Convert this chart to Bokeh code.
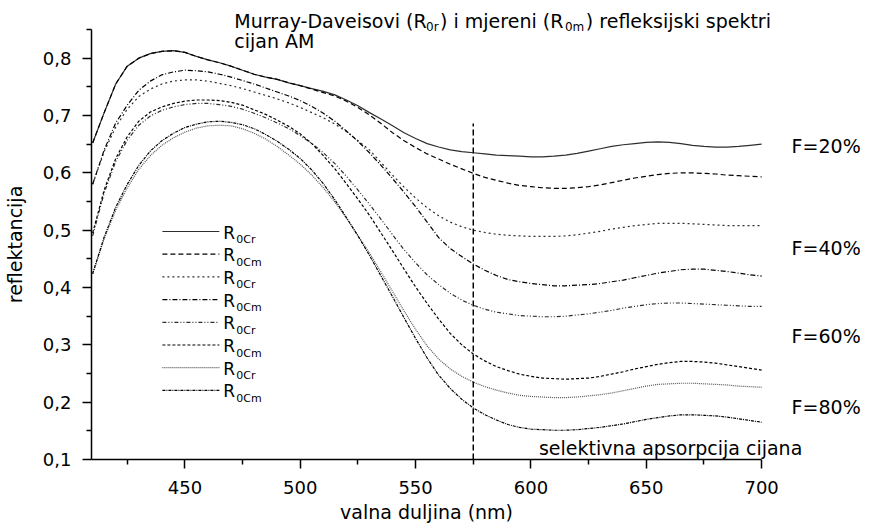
from bokeh.plotting import figure
from bokeh.models import (Range1d, FixedTicker, CustomJSTickFormatter, LinearAxis)
from bokeh.core.properties import value
from bokeh.embed import file_html
from bokeh.resources import INLINE

# ---------------- data ----------------
wavelength = [410, 415, 420, 425, 430, 435, 440, 445, 450, 455,
              460, 465, 470, 475, 480, 485, 490, 495, 500, 505,
              510, 515, 520, 525, 530, 535, 540, 545, 550, 555,
              560, 565, 570, 575, 580, 585, 590, 595, 600, 605,
              610, 615, 620, 625, 630, 635, 640, 645, 650, 655,
              660, 665, 670, 675, 680, 685, 690, 695, 700]

r0cr_f20 = [0.652, 0.705, 0.755, 0.786, 0.800, 0.808, 0.812, 0.813, 0.810, 0.803,
            0.797, 0.792, 0.786, 0.779, 0.772, 0.767, 0.763, 0.757, 0.752, 0.747,
            0.742, 0.736, 0.727, 0.717, 0.705, 0.694, 0.682, 0.670, 0.660, 0.651,
            0.645, 0.640, 0.637, 0.635, 0.633, 0.631, 0.630, 0.629, 0.628, 0.628,
            0.629, 0.631, 0.634, 0.638, 0.642, 0.646, 0.649, 0.651, 0.653, 0.654,
            0.653, 0.651, 0.648, 0.646, 0.645, 0.645, 0.646, 0.648, 0.650]
r0cm_f20 = [0.652, 0.705, 0.755, 0.786, 0.800, 0.808, 0.812, 0.813, 0.810, 0.803,
            0.797, 0.792, 0.786, 0.779, 0.772, 0.767, 0.763, 0.757, 0.752, 0.746,
            0.740, 0.734, 0.725, 0.714, 0.701, 0.686, 0.670, 0.656, 0.644, 0.633,
            0.624, 0.615, 0.607, 0.599, 0.592, 0.587, 0.582, 0.578, 0.576, 0.574,
            0.573, 0.573, 0.574, 0.576, 0.579, 0.583, 0.587, 0.591, 0.594, 0.597,
            0.599, 0.600, 0.600, 0.599, 0.598, 0.596, 0.595, 0.594, 0.593]
r0cr_f40 = [0.580, 0.637, 0.680, 0.711, 0.733, 0.746, 0.755, 0.760, 0.762, 0.762,
            0.760, 0.756, 0.752, 0.747, 0.741, 0.735, 0.729, 0.722, 0.714, 0.705,
            0.696, 0.685, 0.672, 0.656, 0.640, 0.618, 0.596, 0.575, 0.556, 0.539,
            0.525, 0.514, 0.506, 0.500, 0.496, 0.493, 0.491, 0.490, 0.489, 0.489,
            0.489, 0.490, 0.492, 0.495, 0.498, 0.502, 0.505, 0.508, 0.510, 0.512,
            0.512, 0.512, 0.511, 0.510, 0.509, 0.508, 0.508, 0.508, 0.508]
r0cm_f40 = [0.580, 0.640, 0.687, 0.718, 0.744, 0.760, 0.771, 0.776, 0.779, 0.778,
            0.776, 0.772, 0.767, 0.761, 0.755, 0.748, 0.741, 0.734, 0.726, 0.716,
            0.704, 0.690, 0.673, 0.655, 0.635, 0.613, 0.590, 0.566, 0.541, 0.514,
            0.487, 0.468, 0.454, 0.441, 0.430, 0.421, 0.414, 0.410, 0.407, 0.405,
            0.403, 0.403, 0.404, 0.405, 0.407, 0.410, 0.413, 0.417, 0.421, 0.425,
            0.428, 0.431, 0.432, 0.432, 0.430, 0.428, 0.425, 0.422, 0.420]
r0cr_f60 = [0.490, 0.565, 0.620, 0.657, 0.683, 0.699, 0.709, 0.715, 0.719, 0.721,
            0.721, 0.719, 0.716, 0.711, 0.704, 0.696, 0.687, 0.677, 0.665, 0.651,
            0.635, 0.616, 0.594, 0.570, 0.545, 0.519, 0.492, 0.466, 0.443, 0.422,
            0.405, 0.390, 0.378, 0.369, 0.362, 0.357, 0.354, 0.351, 0.350, 0.349,
            0.349, 0.350, 0.352, 0.354, 0.357, 0.360, 0.364, 0.367, 0.370, 0.372,
            0.373, 0.373, 0.372, 0.371, 0.370, 0.369, 0.368, 0.367, 0.367]
r0cm_f60 = [0.495, 0.570, 0.625, 0.663, 0.690, 0.706, 0.715, 0.721, 0.725, 0.727,
            0.727, 0.726, 0.723, 0.718, 0.710, 0.702, 0.692, 0.681, 0.668, 0.651,
            0.630, 0.607, 0.581, 0.554, 0.526, 0.495, 0.464, 0.432, 0.401, 0.372,
            0.345, 0.320, 0.300, 0.284, 0.272, 0.262, 0.255, 0.249, 0.245, 0.242,
            0.241, 0.240, 0.241, 0.242, 0.245, 0.249, 0.253, 0.258, 0.262, 0.266,
            0.269, 0.271, 0.271, 0.270, 0.268, 0.265, 0.262, 0.259, 0.256]
r0cr_f80 = [0.424, 0.485, 0.535, 0.574, 0.606, 0.630, 0.648, 0.661, 0.671, 0.678,
            0.682, 0.683, 0.682, 0.677, 0.669, 0.659, 0.646, 0.631, 0.615, 0.596,
            0.574, 0.549, 0.521, 0.491, 0.460, 0.427, 0.393, 0.359, 0.327, 0.298,
            0.275, 0.258, 0.245, 0.235, 0.227, 0.221, 0.216, 0.212, 0.210, 0.209,
            0.208, 0.208, 0.209, 0.211, 0.213, 0.216, 0.220, 0.224, 0.228, 0.231,
            0.232, 0.233, 0.233, 0.232, 0.231, 0.230, 0.228, 0.227, 0.226]
r0cm_f80 = [0.424, 0.488, 0.540, 0.580, 0.613, 0.638, 0.656, 0.669, 0.679, 0.685,
            0.689, 0.690, 0.688, 0.684, 0.677, 0.667, 0.655, 0.641, 0.625, 0.605,
            0.581, 0.553, 0.522, 0.490, 0.456, 0.420, 0.384, 0.347, 0.311, 0.277,
            0.247, 0.224, 0.205, 0.190, 0.178, 0.169, 0.161, 0.156, 0.153, 0.152,
            0.151, 0.151, 0.152, 0.154, 0.156, 0.159, 0.162, 0.166, 0.170, 0.173,
            0.176, 0.178, 0.178, 0.177, 0.176, 0.174, 0.171, 0.168, 0.165]

series = [r0cr_f20, r0cm_f20, r0cr_f40, r0cm_f40,
          r0cr_f60, r0cm_f60, r0cr_f80, r0cm_f80]
legend_subs = ["0Cr", "0Cm", "0Cr", "0Cm", "0Cr", "0Cm", "0Cr", "0Cm"]

f_labels = ["F=20%", "F=40%", "F=60%", "F=80%"]
f_label_y = [0.647, 0.469, 0.316, 0.192]

x_ticks = [450, 500, 550, 600, 650, 700]
x_minor_ticks = [425, 475, 525, 575, 625, 675]
y_ticks = [0.1, 0.2, 0.3, 0.4, 0.5, 0.6, 0.7, 0.8]
y_minor_ticks = [0.15, 0.25, 0.35, 0.45, 0.55, 0.65, 0.75, 0.85]
x_bounds = (409.5, 700)
y_bounds = (0.1, 0.85)

x_title = "valna duljina (nm)"
y_title = "reflektancija"

absorption_edge_nm = 575
absorption_label = "selektivna apsorpcija cijana"

# ---------------- styles ----------------
FONT = "DejaVu Sans"
DARK = "#2e2e2e"
styles = [
    dict(line_color=DARK, line_dash="solid"),
    dict(line_color="black", line_dash="5 3"),
    dict(line_color=DARK, line_dash="2 3"),
    dict(line_color="black", line_dash="5 2 1 2"),
    dict(line_color=DARK, line_dash="4 2 1 2 1 2"),
    dict(line_color="black", line_dash="3 2"),
    dict(line_color="#555555", line_dash="1 1"),
    dict(line_color="black", line_dash="3 1 1 1"),
]

# page-pixel -> data helpers (layout only); axes at x=90 (409.5 nm), y=459 (0.1)
X0, XS, LEFT = 409.5, 671 / 290.5, 90
Y0, YS, BOTTOM = 0.1, 430 / 0.75, 459
W, H = 872, 528


def dx(px):
    return X0 + (px - LEFT) / XS


def dy(py):
    return Y0 + (BOTTOM - py) / YS


p = figure(width=W, height=H, output_backend="svg", toolbar_location=None,
           x_range=Range1d(dx(LEFT), dx(W)), y_range=Range1d(dy(BOTTOM), dy(0)),
           min_border_left=LEFT, min_border_right=0, min_border_top=0,
           min_border_bottom=H - BOTTOM)
p.outline_line_color = None
p.grid.visible = False
p.background_fill_color = "white"
p.border_fill_color = "white"

for ax in (p.xaxis[0], p.yaxis[0]):
    ax.axis_line_color = "black"
    ax.axis_line_width = 1.5
    ax.major_tick_line_color = "black"
    ax.minor_tick_line_color = "black"
    ax.major_tick_line_width = 1.5
    ax.minor_tick_line_width = 1.5
    ax.major_tick_in = 0
    ax.major_tick_out = 9
    ax.minor_tick_in = 0
    ax.minor_tick_out = 5
    ax.major_label_text_font = FONT
    ax.major_label_text_font_size = "18px"
    ax.major_label_text_color = "black"

p.xaxis.bounds = x_bounds
p.yaxis.bounds = y_bounds
p.xaxis.ticker = FixedTicker(ticks=x_ticks, minor_ticks=x_minor_ticks)
p.yaxis.ticker = FixedTicker(ticks=y_ticks, minor_ticks=y_minor_ticks)
p.yaxis.formatter = CustomJSTickFormatter(code="return tick.toFixed(1).replace('.', ',');")
p.xaxis.major_label_standoff = 12
p.yaxis.major_label_standoff = 11


def title_axis(center, text, standoff, orientation="horizontal"):
    ax = LinearAxis(ticker=FixedTicker(ticks=[center], minor_ticks=[]),
                    formatter=CustomJSTickFormatter(args=dict(t=text), code="return t;"),
                    axis_line_color=None, major_tick_line_color=None,
                    minor_tick_line_color=None, major_tick_in=0, major_tick_out=0,
                    minor_tick_in=0, minor_tick_out=0,
                    major_label_standoff=standoff,
                    major_label_orientation=orientation,
                    major_label_text_font=FONT, major_label_text_font_size="19px",
                    major_label_text_color="black")
    return ax


# axis titles centred on the drawn axis extent
p.add_layout(title_axis((x_bounds[0] + x_bounds[1]) / 2, x_title, 4), "below")
p.add_layout(title_axis((y_bounds[0] + y_bounds[1]) / 2, y_title, 14, "vertical"), "left")

# curves
for ys, st in zip(series, styles):
    p.line(wavelength, ys, line_width=1.2, **st)

# absorption edge
p.segment(x0=[absorption_edge_nm], y0=[y_bounds[0]], x1=[absorption_edge_nm], y1=[dy(123)],
          line_color="black", line_width=1.5, line_dash="6 3")


def label(txt, x, y, size):
    p.text(x=[x], y=[y], text=[txt], text_font=value(FONT), text_font_size=size,
           text_baseline="middle", text_align="left", text_color="black")


label(absorption_label, dx(538), dy(447), "19px")

# F labels
for txt, yv in zip(f_labels, f_label_y):
    label(txt, dx(791), yv, "19px")

# legend (custom, to allow subscripts)
for i, (st, sub) in enumerate(zip(styles, legend_subs)):
    row_py = 231 + 22.7 * i
    p.line([dx(161), dx(218)], [dy(row_py), dy(row_py)], line_width=1.2, **st)
    label("R", dx(222), dy(row_py + 1), "17px")
    label(sub, dx(235), dy(row_py + 8), "11px")

# title with subscripts
title_parts = [("Murray-Daveisovi (R", 233, 20, "19px"),
               ("0r", 425, 26, "12px"),
               (") i mjereni (R", 439, 20, "19px"),
               ("0m", 564, 26, "12px"),
               (") refleksijski spektri", 585, 20, "19px"),
               ("cijan AM", 233, 40, "19px")]
for txt, px, py, fs in title_parts:
    label(txt, dx(px), dy(py), fs)

open("out.html", "w").write(file_html(p, INLINE))
